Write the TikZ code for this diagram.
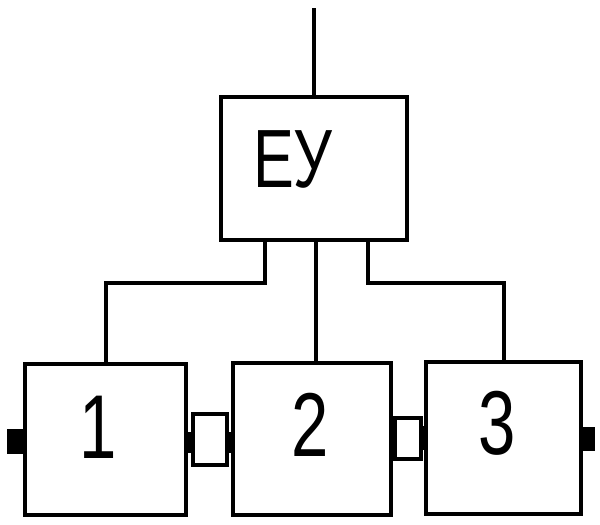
\documentclass[tikz,border=0pt]{standalone}
\usepackage{fontspec}
\setmainfont{Liberation Sans}[FakeStretch=0.74]
\begin{document}
\begin{tikzpicture}[x=0.75pt,y=-0.75pt,
  box/.style={draw=black,line width=2.3pt,rectangle,inner sep=0pt,outer sep=0pt,fill=white},
  tab/.style={fill=black,draw=none,rectangle,inner sep=0pt,outer sep=0pt},
  link/.style={draw=black,line width=3pt},
  lbl/.style={inner sep=0pt,font=\fontsize{68}{68}\selectfont},
  bulbl/.style={inner sep=0pt,font=\fontsize{62}{62}\selectfont}]
\useasboundingbox (0,0) rectangle (600,525);
% main boxes
\node[box,minimum width=139.5pt,minimum height=107.25pt] (bu) at (314,168.5) {};
\node[box,minimum width=120.75pt,minimum height=113.25pt] (b1) at (105.5,439.5) {};
\node[box,minimum width=118.5pt,minimum height=114pt] (b2) at (312,439) {};
\node[box,minimum width=116.25pt,minimum height=114pt] (b3) at (503.5,438) {};
% coupling boxes
\node[box,minimum width=25.5pt,minimum height=38.25pt] (c12) at (210,439.5) {};
\node[box,minimum width=19.5pt,minimum height=30.75pt] (c23) at (408,438.5) {};
% black tabs
\node[tab,minimum width=12.75pt,minimum height=18.75pt] (tl) at (15.5,441.5) {};
\node[tab,minimum width=5.25pt,minimum height=15.75pt] (t1r) at (189.5,442.5) {};
\node[tab,minimum width=4.5pt,minimum height=15.75pt] (t2l) at (230,442.5) {};
\node[tab,minimum width=3.75pt,minimum height=18.75pt] (t2r) at (393.5,437.5) {};
\node[tab,minimum width=4.5pt,minimum height=18pt] (t3l) at (423,438) {};
\node[tab,minimum width=10pt,minimum height=18pt] (tr) at (588,439) {};
% labels
\node[bulbl] (tbu) at (293,159) {ЕУ};
\node[lbl] (t1) at (98,427) {1};
\node[lbl] (t2) at (310,425) {2};
\node[lbl] (t3) at (497,423) {3};
% connectors
\coordinate (top) at (314,8);
\draw[link] (top) -- (bu.north);
\draw[link] ([shift={(-49,0)}]bu.south) -- ++(0,43) -| (b1.north);
\draw[link] ([shift={(2,0)}]bu.south) -- ([shift={(4,0)}]b2.north);
\draw[link] ([shift={(54,0)}]bu.south) -- ++(0,43) -| (b3.north);
\end{tikzpicture}
\end{document}
